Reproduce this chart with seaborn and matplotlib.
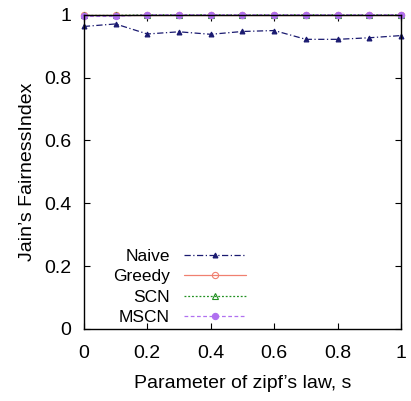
import numpy as np
import pandas as pd
import matplotlib
matplotlib.use("Agg")
import matplotlib.pyplot as plt
import seaborn as sns

# data
s_values = [0.0, 0.1, 0.2, 0.3, 0.4, 0.5, 0.6, 0.7, 0.8, 0.9, 1.0]
naive = [0.963, 0.971, 0.939, 0.946, 0.938, 0.947, 0.950, 0.922, 0.922, 0.927, 0.934]
greedy = [1.0, 1.0, 1.0, 1.0, 1.0, 1.0, 1.0, 1.0, 1.0, 1.0, 1.0]
scn = [0.998, 0.998, 1.0, 1.0, 1.0, 1.0, 1.0, 1.0, 1.0, 1.0, 1.0]
mscn = [0.995, 0.995, 1.0, 1.0, 1.0, 1.0, 1.0, 1.0, 1.0, 1.0, 1.0]

sns.set_style("ticks", {"text.color": "black", "axes.labelcolor": "black",
                        "xtick.color": "black", "ytick.color": "black"})
plt.rcParams['font.family'] = ['Liberation Sans', 'DejaVu Sans']

fig = plt.figure(figsize=(4.11, 4.01), dpi=100)
ax = fig.add_axes([0.204, 0.180, 0.772, 0.783])

styles = [
    ("Naive", naive, "#1a1a70", (0, (5, 2, 1, 2)), "^", "#1a1a70", 3.5),
    ("Greedy", greedy, "#f08070", "-", "o", "none", 4.5),
    ("SCN", scn, "#209020", (0, (1.5, 1.5)), "^", "none", 4.5),
    ("MSCN", mscn, "#b070f0", (0, (3, 2)), "o", "#b070f0", 4.5),
]
for name, vals, col, ls, mk, mfc, ms in styles:
    df = pd.DataFrame({"s": s_values, "v": vals})
    sns.lineplot(data=df, x="s", y="v", ax=ax, color=col, linestyle=ls, linewidth=0.9,
                 marker=mk, markerfacecolor=mfc, markeredgecolor=col, markersize=ms,
                 markeredgewidth=0.8, label=name, clip_on=False)

ax.set_xlim(0, 1)
ax.set_ylim(0, 1)
ax.set_xticks([0, 0.2, 0.4, 0.6, 0.8, 1])
ax.set_xticklabels(["0", "0.2", "0.4", "0.6", "0.8", "1"])
ax.set_yticks([0, 0.2, 0.4, 0.6, 0.8, 1])
ax.set_yticklabels(["0", "0.2", "0.4", "0.6", "0.8", "1"])
ax.tick_params(direction="in", top=True, right=True, labelsize=14, length=4, width=0.8,
               colors="black")
ax.tick_params(axis="x", pad=12)
ax.tick_params(axis="y", pad=9)
for sp in ax.spines.values():
    sp.set_linewidth(1.0)
    sp.set_color("black")
ax.set_xlabel("Parameter of zipf\u2019s law, s", fontsize=14, labelpad=9, color="black")
ax.set_ylabel("Jain\u2019s FairnessIndex", fontsize=14, labelpad=6, color="black")

leg = ax.legend(loc="lower left", bbox_to_anchor=(0.07, -0.01), frameon=False, markerfirst=False,
                fontsize=12.5, handlelength=3.6, labelspacing=0.3, borderaxespad=0.0)
for t in leg.get_texts():
    t.set_color("black")

fig.savefig("out.png", dpi=100)
